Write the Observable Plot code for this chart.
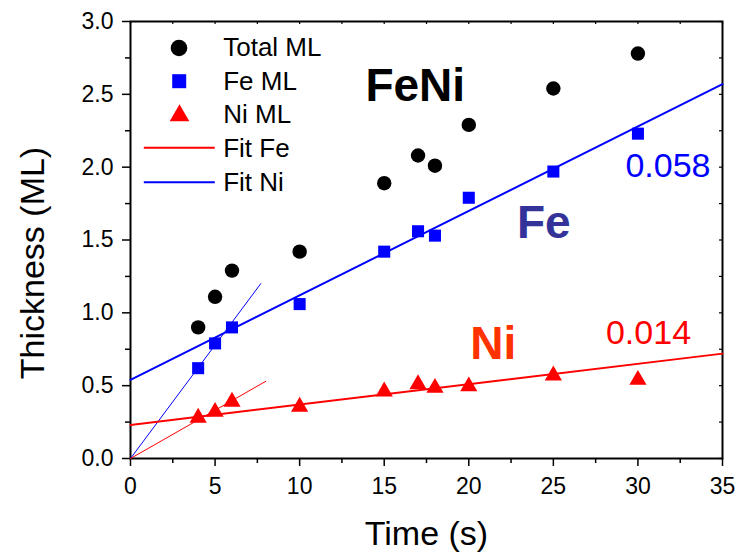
<!DOCTYPE html>
<html>
<head>
<meta charset="utf-8">
<script src="https://cdn.jsdelivr.net/npm/d3@7"></script>
<script src="https://cdn.jsdelivr.net/npm/@observablehq/plot@0.6"></script>
<style>
  html, body { margin: 0; padding: 0; background: white; }
</style>
</head>
<body>
<div id="chart"></div>
<script>
// ---- data ----
const times   = [4, 5, 6, 10, 15, 17, 18, 20, 25, 30];
const totalML = [0.90, 1.11, 1.29, 1.42, 1.89, 2.08, 2.01, 2.29, 2.54, 2.78];
const feML    = [0.62, 0.79, 0.90, 1.06, 1.42, 1.56, 1.53, 1.79, 1.97, 2.23];
const niML    = [0.28, 0.32, 0.39, 0.355, 0.46, 0.51, 0.485, 0.495, 0.57, 0.54];

// fit lines (end points)
const feFitX = [0, 35],  feFitY = [0.54, 2.57];
const niFitX = [0, 35],  niFitY = [0.23, 0.72];
// initial-slope lines from origin
const feInitX = [0, 7.7], feInitY = [0, 1.2];
const niInitX = [0, 8.0], niInitY = [0, 0.53];

const xMajorTicks = [0, 5, 10, 15, 20, 25, 30, 35];
const xMinorTicks = [2.5, 7.5, 12.5, 17.5, 22.5, 27.5, 32.5];
const yMajorTicks = [0, 0.5, 1.0, 1.5, 2.0, 2.5, 3.0];
const yMinorTicks = [0.25, 0.75, 1.25, 1.75, 2.25, 2.75];

const legendLabels = ["Total ML", "Fe ML", "Ni ML", "Fit Fe", "Fit Ni"];
const xLabel = "Time (s)";
const yLabel = "Thickness (ML)";
const sampleLabel = "FeNi";
const feLabel = "Fe";
const niLabel = "Ni";
const feSlopeLabel = "0.058";
const niSlopeLabel = "0.014";

// ---- build tables ----
const pts = (xs, ys) => xs.map((x, i) => ({x, y: ys[i]}));
const totalData = pts(times, totalML);
const feData = pts(times, feML);
const niData = pts(times, niML);

const BLUE = "#0000ff", RED = "#ff0000";
const FONT = "'Liberation Sans', Arial, Helvetica, sans-serif";

const W = 739, H = 556;
const mL = 130, mR = 17, mT = 21, mB = 98;
const plotW = W - mL - mR, plotH = H - mT - mB;

const lineSymbol = { draw(ctx) { ctx.moveTo(-35.5, 0); ctx.lineTo(35.5, 0); } };

// legend marks
const legendDy = [34, 68.3, 101.7, 135.7, 169];
const legendMarks = [
  Plot.dot([0], {frameAnchor: "top-left", dx: 48.5, dy: 26.5, r: 8.3, fill: "black", symbol: "circle"}),
  Plot.dot([0], {frameAnchor: "top-left", dx: 48.7, dy: 59.7, r: 7.9, fill: BLUE, symbol: "square"}),
  Plot.dot([0], {frameAnchor: "top-left", dx: 49, dy: 94, r: 7.3, fill: RED, symbol: "triangle"}),
  Plot.dot([0], {frameAnchor: "top-left", dx: 48.8, dy: 126.3, symbol: lineSymbol, stroke: RED, fill: "none", strokeWidth: 2}),
  Plot.dot([0], {frameAnchor: "top-left", dx: 48.8, dy: 160.7, symbol: lineSymbol, stroke: BLUE, fill: "none", strokeWidth: 2}),
  ...legendLabels.map((t, i) => Plot.text([t], {
    text: d => d, frameAnchor: "top-left", dx: 92.7, dy: legendDy[i],
    textAnchor: "start", lineAnchor: "bottom", fontSize: 26, fill: "black"
  }))
];

const chart = Plot.plot({
  width: W, height: H,
  marginLeft: mL, marginRight: mR, marginTop: mT, marginBottom: mB,
  x: {domain: [0, 35]},
  y: {domain: [0, 3]},
  style: {fontFamily: FONT, background: "white", color: "black", overflow: "visible"},
  marks: [
    // axes
    Plot.axisX(xMajorTicks, {tickSize: 8, tickPadding: 11, fontSize: 23, label: null, strokeWidth: 1.5, tickFormat: d => String(d)}),
    Plot.axisX(xMinorTicks, {tickSize: 5, label: null, strokeWidth: 1.5, tickFormat: () => ""}),
    Plot.axisY(yMajorTicks, {tickSize: 8, tickPadding: 9, fontSize: 23, label: null, strokeWidth: 1.5, tickFormat: d3.format(".1f")}),
    Plot.axisY(yMinorTicks, {tickSize: 5, label: null, strokeWidth: 1.5, tickFormat: () => ""}),
    // inward ticks on top and right
    Plot.tickX(xMinorTicks.concat(xMajorTicks), {x: d => d, insetBottom: plotH - 3, stroke: "black", strokeWidth: 1.2}),
    Plot.tickY(yMinorTicks.concat(yMajorTicks), {y: d => d, insetLeft: plotW - 3, stroke: "black", strokeWidth: 1.2}),
    Plot.frame({stroke: "black", strokeWidth: 2}),

    // fit lines
    Plot.line(pts(feInitX, feInitY), {x: "x", y: "y", stroke: BLUE, strokeWidth: 1}),
    Plot.line(pts(niInitX, niInitY), {x: "x", y: "y", stroke: RED, strokeWidth: 1}),
    Plot.line(pts(feFitX, feFitY), {x: "x", y: "y", stroke: BLUE, strokeWidth: 2}),
    Plot.line(pts(niFitX, niFitY), {x: "x", y: "y", stroke: RED, strokeWidth: 2}),

    // data points
    Plot.dot(totalData, {x: "x", y: "y", r: 7.2, fill: "black", symbol: "circle"}),
    Plot.dot(feData, {x: "x", y: "y", r: 6.8, fill: BLUE, symbol: "square"}),
    Plot.dot(niData, {x: "x", y: "y", r: 6.4, fill: RED, symbol: "triangle"}),

    // annotations
    Plot.text([sampleLabel], {text: d => d, x: 13.89, y: 2.451, textAnchor: "start", lineAnchor: "bottom", fontSize: 46, fontWeight: "bold", fill: "black"}),
    Plot.text([feLabel], {text: d => d, x: 22.85, y: 1.515, textAnchor: "start", lineAnchor: "bottom", fontSize: 46, fontWeight: "bold", fill: "#333399"}),
    Plot.text([niLabel], {text: d => d, x: 20.09, y: 0.681, textAnchor: "start", lineAnchor: "bottom", fontSize: 46, fontWeight: "bold", fill: "#ff3300"}),
    Plot.text([feSlopeLabel], {text: d => d, x: 29.26, y: 1.935, textAnchor: "start", lineAnchor: "bottom", fontSize: 34, fill: BLUE}),
    Plot.text([niSlopeLabel], {text: d => d, x: 28.11, y: 0.783, textAnchor: "start", lineAnchor: "bottom", fontSize: 34, fill: RED}),

    // axis titles
    Plot.text([xLabel], {text: d => d, frameAnchor: "bottom", dy: 86.7, textAnchor: "middle", lineAnchor: "bottom", fontSize: 34, fill: "black"}),
    Plot.text([yLabel], {text: d => d, frameAnchor: "left", dx: -87, dy: 23, rotate: -90, textAnchor: "middle", lineAnchor: "bottom", fontSize: 34, fill: "black"}),

    ...legendMarks
  ]
});

document.getElementById("chart").appendChild(chart);
</script>
</body>
</html>
